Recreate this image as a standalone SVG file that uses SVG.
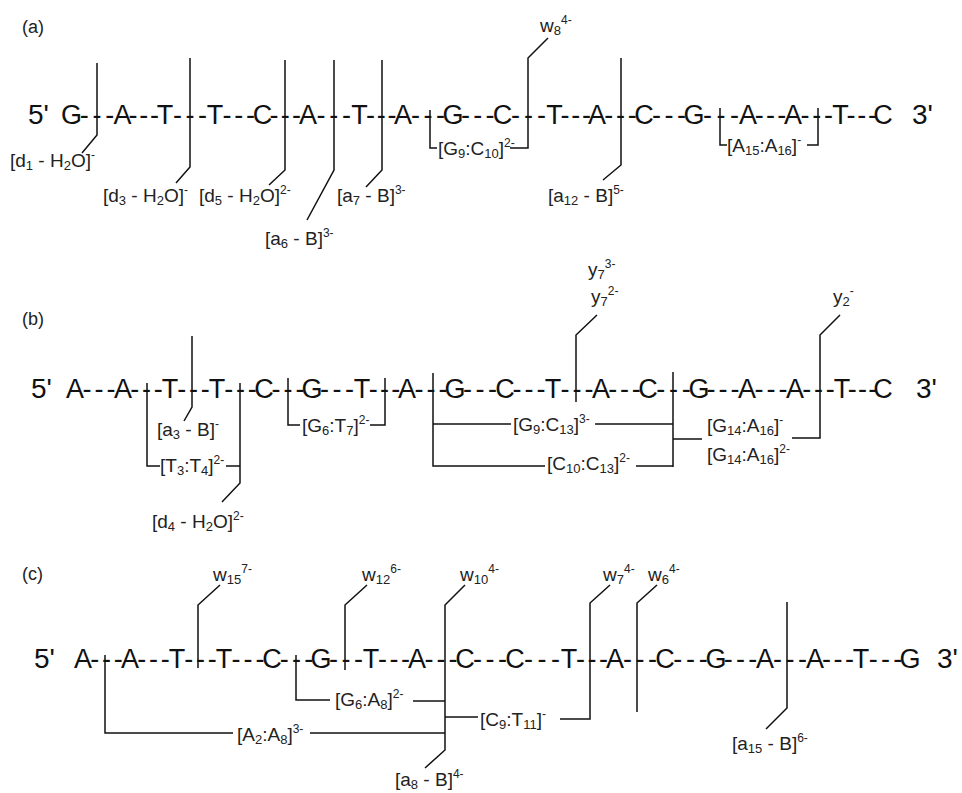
<svg xmlns="http://www.w3.org/2000/svg" width="962" height="793" viewBox="0 0 962 793">
<style>
.seq{font-family:"Liberation Sans",Arial,sans-serif;font-size:27px;fill:#111;text-anchor:middle}
.end{font-family:"Liberation Sans",Arial,sans-serif;font-size:28px;fill:#111}
.pl{font-family:"Liberation Sans",Arial,sans-serif;font-size:18px;fill:#222}
.lbl{font-family:"Liberation Sans",Arial,sans-serif;font-size:19px;fill:#222}
.s{font-size:13px}
.p{font-size:12px}
.cn{fill:none;stroke:#111;stroke-width:1.5;stroke-linejoin:miter}
</style>
<rect width="962" height="793" fill="#fff"/>

<!-- Panel (a) -->
<g id="panel-a">
<text class="pl" x="22" y="33">(a)</text>
<g id="seq-a">
<text class="end" x="28" y="124">5'</text>
<text class="seq" y="124" x="71.5 84.3 97 109.8 122.5 133.1 143.8 154.4 165 177.5 190 202.5 215 226.9 238.8 250.6 262.5 273.9 285.3 296.6 308 320.9 333.8 346.6 359.5 370.4 381.3 392.1 403 415.5 428 440.5 453 465.4 477.8 490.1 502.5 515.5 528.5 541.5 554.5 565.1 575.8 586.4 597 608.8 620.5 632.3 644 656.5 669 681.5 694 707.5 721 734.5 748 759.3 770.5 781.8 793 804.9 816.8 828.6 840.5 851.1 861.8 872.4 883">G---A---T---T---C---A---T---A---G---C---T---A---C---G---A---A---T---C</text>
<text class="end" x="912" y="124">3'</text>
</g>
<g id="a-d1"><text class="lbl" x="10" y="167">[d<tspan class="s" dy="3">1</tspan><tspan dy="-3"> - H</tspan><tspan class="s" dy="3">2</tspan><tspan dy="-3">O]</tspan><tspan class="p" dy="-8">-</tspan></text></g>
<g id="a-d3"><text class="lbl" x="103" y="202">[d<tspan class="s" dy="3">3</tspan><tspan dy="-3"> - H</tspan><tspan class="s" dy="3">2</tspan><tspan dy="-3">O]</tspan><tspan class="p" dy="-8">-</tspan></text></g>
<g id="a-d5"><text class="lbl" x="199" y="202">[d<tspan class="s" dy="3">5</tspan><tspan dy="-3"> - H</tspan><tspan class="s" dy="3">2</tspan><tspan dy="-3">O]</tspan><tspan class="p" dy="-8">2-</tspan></text></g>
<g id="a-a6"><text class="lbl" x="265" y="245">[a<tspan class="s" dy="3">6</tspan><tspan dy="-3"> - B]</tspan><tspan class="p" dy="-8">3-</tspan></text></g>
<g id="a-a7"><text class="lbl" x="337" y="202">[a<tspan class="s" dy="3">7</tspan><tspan dy="-3"> - B]</tspan><tspan class="p" dy="-8">3-</tspan></text></g>
<g id="a-g9c10"><text class="lbl" x="438" y="155">[G<tspan class="s" dy="3">9</tspan><tspan dy="-3">:C</tspan><tspan class="s" dy="3">10</tspan><tspan dy="-3">]</tspan><tspan class="p" dy="-8">2-</tspan></text></g>
<g id="a-w8"><text class="lbl" x="540" y="32">w<tspan class="s" dy="3">8</tspan><tspan class="p" dy="-11">4-</tspan></text></g>
<g id="a-a12"><text class="lbl" x="548" y="202">[a<tspan class="s" dy="3">12</tspan><tspan dy="-3"> - B]</tspan><tspan class="p" dy="-8">5-</tspan></text></g>
<g id="a-a15a16"><text class="lbl" x="727" y="152">[A<tspan class="s" dy="3">15</tspan><tspan dy="-3">:A</tspan><tspan class="s" dy="3">16</tspan><tspan dy="-3">]</tspan><tspan class="p" dy="-8">-</tspan></text></g>
</g>

<!-- Panel (b) -->
<g id="panel-b">
<text class="pl" x="22" y="325">(b)</text>
<g id="seq-b">
<text class="end" x="31" y="398">5'</text>
<text class="seq" y="398" x="75 87 99 111 123 134.8 146.5 158.3 170 181.8 193.5 205.3 217 228.8 240.5 252.3 264 276 288 300 312 324.5 337 349.5 362 373.3 384.5 395.8 407 419 431 443 455 467.5 480 492.5 505 517 529 541 553 565 577 589 601 612.8 624.5 636.3 648 660.8 673.5 686.3 699 711 723 735 747 759 771 783 795 806.8 818.5 830.3 842 852.3 862.5 872.8 883">A---A---T---T---C---G---T---A---G---C---T---A---C---G---A---A---T---C</text>
<text class="end" x="916" y="398">3'</text>
</g>
<g id="b-a3"><text class="lbl" x="157" y="436">[a<tspan class="s" dy="3">3</tspan><tspan dy="-3"> - B]</tspan><tspan class="p" dy="-8">-</tspan></text></g>
<g id="b-t3t4"><text class="lbl" x="160" y="472">[T<tspan class="s" dy="3">3</tspan><tspan dy="-3">:T</tspan><tspan class="s" dy="3">4</tspan><tspan dy="-3">]</tspan><tspan class="p" dy="-8">2-</tspan></text></g>
<g id="b-d4"><text class="lbl" x="152" y="528">[d<tspan class="s" dy="3">4</tspan><tspan dy="-3"> - H</tspan><tspan class="s" dy="3">2</tspan><tspan dy="-3">O]</tspan><tspan class="p" dy="-8">2-</tspan></text></g>
<g id="b-g6t7"><text class="lbl" x="302" y="432">[G<tspan class="s" dy="3">6</tspan><tspan dy="-3">:T</tspan><tspan class="s" dy="3">7</tspan><tspan dy="-3">]</tspan><tspan class="p" dy="-8">2-</tspan></text></g>
<g id="b-g9c13"><text class="lbl" x="513" y="431">[G<tspan class="s" dy="3">9</tspan><tspan dy="-3">:C</tspan><tspan class="s" dy="3">13</tspan><tspan dy="-3">]</tspan><tspan class="p" dy="-8">3-</tspan></text></g>
<g id="b-c10c13"><text class="lbl" x="547" y="470">[C<tspan class="s" dy="3">10</tspan><tspan dy="-3">:C</tspan><tspan class="s" dy="3">13</tspan><tspan dy="-3">]</tspan><tspan class="p" dy="-8">2-</tspan></text></g>
<g id="b-g14a16-1"><text class="lbl" x="707" y="432">[G<tspan class="s" dy="3">14</tspan><tspan dy="-3">:A</tspan><tspan class="s" dy="3">16</tspan><tspan dy="-3">]</tspan><tspan class="p" dy="-8">-</tspan></text></g>
<g id="b-g14a16-2"><text class="lbl" x="707" y="461">[G<tspan class="s" dy="3">14</tspan><tspan dy="-3">:A</tspan><tspan class="s" dy="3">16</tspan><tspan dy="-3">]</tspan><tspan class="p" dy="-8">2-</tspan></text></g>
<g id="b-y7-3"><text class="lbl" x="588" y="276">y<tspan class="s" dy="3">7</tspan><tspan class="p" dy="-11">3-</tspan></text></g>
<g id="b-y7-2"><text class="lbl" x="591" y="303">y<tspan class="s" dy="3">7</tspan><tspan class="p" dy="-11">2-</tspan></text></g>
<g id="b-y2"><text class="lbl" x="833" y="303">y<tspan class="s" dy="3">2</tspan><tspan class="p" dy="-11">-</tspan></text></g>
</g>

<!-- Panel (c) -->
<g id="panel-c">
<text class="pl" x="22" y="580">(c)</text>
<g id="seq-c">
<text class="end" x="34" y="668">5'</text>
<text class="seq" y="668" x="83 94.8 106.5 118.3 130 141.8 153.5 165.3 177 188.8 200.5 212.3 224 236 248 260 272 284.3 296.5 308.8 321 333.5 346 358.5 371 382.5 394 405.5 417 429 441 453 465 477.5 490 502.5 515 528.5 542 555.5 569 580.5 592 603.5 615 627.5 640 652.5 665 677.8 690.5 703.3 716 728.3 740.5 752.8 765 777.5 790 802.5 815 826.5 838 849.5 861 873.3 885.5 897.8 910">A---A---T---T---C---G---T---A---C---C---T---A---C---G---A---A---T---G</text>
<text class="end" x="937" y="668">3'</text>
</g>
<g id="c-w15"><text class="lbl" x="213" y="581">w<tspan class="s" dy="3">15</tspan><tspan class="p" dy="-11">7-</tspan></text></g>
<g id="c-w12"><text class="lbl" x="362" y="581">w<tspan class="s" dy="3">12</tspan><tspan class="p" dy="-11">6-</tspan></text></g>
<g id="c-w10"><text class="lbl" x="460" y="581">w<tspan class="s" dy="3">10</tspan><tspan class="p" dy="-11">4-</tspan></text></g>
<g id="c-w7"><text class="lbl" x="603" y="581">w<tspan class="s" dy="3">7</tspan><tspan class="p" dy="-11">4-</tspan></text></g>
<g id="c-w6"><text class="lbl" x="648" y="581">w<tspan class="s" dy="3">6</tspan><tspan class="p" dy="-11">4-</tspan></text></g>
<g id="c-g6a8"><text class="lbl" x="335" y="706">[G<tspan class="s" dy="3">6</tspan><tspan dy="-3">:A</tspan><tspan class="s" dy="3">8</tspan><tspan dy="-3">]</tspan><tspan class="p" dy="-8">2-</tspan></text></g>
<g id="c-a2a8"><text class="lbl" x="237" y="741">[A<tspan class="s" dy="3">2</tspan><tspan dy="-3">:A</tspan><tspan class="s" dy="3">8</tspan><tspan dy="-3">]</tspan><tspan class="p" dy="-8">3-</tspan></text></g>
<g id="c-c9t11"><text class="lbl" x="480" y="726">[C<tspan class="s" dy="3">9</tspan><tspan dy="-3">:T</tspan><tspan class="s" dy="3">11</tspan><tspan dy="-3">]</tspan><tspan class="p" dy="-8">-</tspan></text></g>
<g id="c-a8"><text class="lbl" x="395" y="786">[a<tspan class="s" dy="3">8</tspan><tspan dy="-3"> - B]</tspan><tspan class="p" dy="-8">4-</tspan></text></g>
<g id="c-a15"><text class="lbl" x="732" y="750">[a<tspan class="s" dy="3">15</tspan><tspan dy="-3"> - B]</tspan><tspan class="p" dy="-8">6-</tspan></text></g>
</g>

<!-- Connectors -->
<g id="connectors" class="cn">
<!-- (a) -->
<polyline points="97,63 97,135 82,153"/>
<polyline points="190,58 190,167 176,183"/>
<polyline points="285,60 285,170 269,185"/>
<polyline points="334,60 334,170 307,220"/>
<polyline points="382,60 382,170 366,187"/>
<polyline points="437,148 430,148 430,110"/>
<polyline points="510,148 528,148 528,58 548,38"/>
<polyline points="621,58 621,165 603,180"/>
<polyline points="727,145 720,145 720,108"/>
<polyline points="807,145 818,145 818,108"/>
<!-- (b) -->
<polyline points="192,336 192,407 184,421"/>
<polyline points="160,466 147,466 147,383"/>
<line x1="226" y1="466" x2="240" y2="466"/>
<polyline points="240,383 240,483 222,502"/>
<polyline points="300,425 288,425 288,378"/>
<polyline points="370,425 385,425 385,378"/>
<polyline points="511,424 433,424"/>
<polyline points="545,466 433,466 433,373"/>
<line x1="595" y1="424" x2="673" y2="424"/>
<line x1="636" y1="466" x2="673" y2="466"/>
<line x1="673" y1="372" x2="673" y2="467"/>
<line x1="673" y1="439" x2="702" y2="439"/>
<polyline points="792,438 820,438 820,335 840,315"/>
<polyline points="576,402 576,335 597,315"/>
<!-- (c) -->
<polyline points="105,655 105,733 233,733"/>
<line x1="310" y1="733" x2="445" y2="733"/>
<polyline points="198,668 198,605 220,585"/>
<polyline points="330,700 296,700 296,655"/>
<line x1="413" y1="701" x2="445" y2="701"/>
<polyline points="345,670 345,605 367,585"/>
<polyline points="465,585 445,605 445,750 425,768"/>
<line x1="445" y1="717" x2="478" y2="717"/>
<polyline points="560,719 590,719 590,603 610,585"/>
<polyline points="637,712 637,603 657,585"/>
<polyline points="787,602 787,708 766,729"/>
</g>
</svg>
